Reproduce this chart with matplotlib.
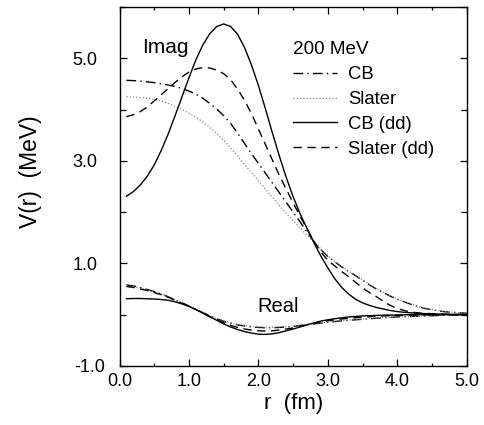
import matplotlib
matplotlib.use("Agg")
import matplotlib.pyplot as plt
from matplotlib.ticker import FixedLocator, FixedFormatter, MultipleLocator
from matplotlib.transforms import ScaledTranslation

plt.rcParams['font.family'] = ['Liberation Sans', 'DejaVu Sans']

r = [0.1, 0.2, 0.3, 0.4, 0.5, 0.6, 0.7, 0.8, 0.9, 1.0,
     1.1, 1.2, 1.3, 1.4, 1.5, 1.6, 1.7, 1.8, 1.9, 2.0,
     2.1, 2.2, 2.3, 2.4, 2.5, 2.6, 2.7, 2.8, 2.9, 3.0,
     3.1, 3.2, 3.3, 3.4, 3.5, 3.6, 3.7, 3.8, 3.9, 4.0,
     4.1, 4.2, 4.3, 4.4, 4.5, 4.6, 4.7, 4.8, 4.9, 5.0]

# Imaginary parts
imag_cb = [4.57, 4.565, 4.555, 4.54, 4.525, 4.50, 4.48, 4.45, 4.41, 4.36,
           4.30, 4.22, 4.12, 4.01, 3.88, 3.73, 3.54, 3.34, 3.14, 2.95,
           2.76, 2.57, 2.38, 2.19, 2.00, 1.81, 1.61, 1.43, 1.27, 1.13,
           1.03, 0.93, 0.84, 0.76, 0.67, 0.58, 0.50, 0.43, 0.36, 0.30,
           0.25, 0.20, 0.16, 0.12, 0.095, 0.07, 0.055, 0.045, 0.035, 0.03]
imag_slater = [4.25, 4.245, 4.235, 4.22, 4.20, 4.17, 4.12, 4.06, 4.00, 3.93,
               3.85, 3.76, 3.65, 3.53, 3.40, 3.25, 3.09, 2.93, 2.77, 2.61,
               2.45, 2.29, 2.13, 1.98, 1.83, 1.69, 1.55, 1.42, 1.28, 1.15,
               1.04, 0.94, 0.85, 0.77, 0.68, 0.59, 0.51, 0.44, 0.37, 0.31,
               0.25, 0.21, 0.16, 0.13, 0.10, 0.075, 0.058, 0.046, 0.036, 0.03]
imag_cb_dd = [2.31, 2.40, 2.53, 2.70, 2.92, 3.20, 3.52, 3.88, 4.25, 4.62,
              4.97, 5.26, 5.48, 5.62, 5.67, 5.62, 5.47, 5.21, 4.87, 4.47,
              4.02, 3.55, 3.10, 2.68, 2.30, 1.97, 1.68, 1.40, 1.14, 0.91,
              0.70, 0.53, 0.40, 0.30, 0.23, 0.18, 0.14, 0.11, 0.08, 0.06,
              0.045, 0.035, 0.025, 0.02, 0.015, 0.01, 0.008, 0.005, 0.003, 0.0]
imag_slater_dd = [3.86, 3.90, 3.96, 4.05, 4.17, 4.29, 4.41, 4.53, 4.64, 4.73,
                  4.79, 4.82, 4.81, 4.77, 4.70, 4.58, 4.40, 4.18, 3.92, 3.62,
                  3.32, 3.02, 2.72, 2.45, 2.18, 1.92, 1.67, 1.43, 1.22, 1.06,
                  0.95, 0.84, 0.74, 0.63, 0.52, 0.43, 0.35, 0.26, 0.18, 0.12,
                  0.08, 0.05, 0.035, 0.025, 0.018, 0.012, 0.008, 0.005, 0.003, 0.0]

# Real parts
real_cb = [0.58, 0.56, 0.53, 0.49, 0.45, 0.40, 0.35, 0.29, 0.23, 0.17,
           0.10, 0.04, -0.02, -0.08, -0.13, -0.17, -0.20, -0.22, -0.24, -0.25,
           -0.255, -0.255, -0.25, -0.24, -0.23, -0.21, -0.195, -0.18, -0.165, -0.15,
           -0.135, -0.12, -0.11, -0.10, -0.09, -0.08, -0.07, -0.06, -0.05, -0.045,
           -0.04, -0.035, -0.03, -0.025, -0.02, -0.015, -0.01, -0.008, -0.005, 0.0]
real_slater = [0.56, 0.545, 0.52, 0.485, 0.445, 0.40, 0.35, 0.29, 0.23, 0.17,
               0.10, 0.04, -0.02, -0.075, -0.12, -0.16, -0.19, -0.21, -0.23, -0.24,
               -0.245, -0.245, -0.24, -0.23, -0.22, -0.205, -0.19, -0.175, -0.16, -0.145,
               -0.13, -0.115, -0.105, -0.095, -0.085, -0.075, -0.065, -0.055, -0.05, -0.045,
               -0.04, -0.035, -0.03, -0.025, -0.02, -0.015, -0.01, -0.008, -0.005, 0.0]
real_cb_dd = [0.31, 0.315, 0.315, 0.31, 0.305, 0.295, 0.28, 0.25, 0.21, 0.16,
              0.10, 0.03, -0.04, -0.11, -0.18, -0.24, -0.29, -0.33, -0.36, -0.38,
              -0.385, -0.375, -0.35, -0.315, -0.28, -0.24, -0.20, -0.16, -0.125, -0.10,
              -0.08, -0.06, -0.045, -0.035, -0.025, -0.02, -0.015, -0.01, -0.008, -0.005,
              -0.003, -0.002, 0.0, 0.0, 0.0, 0.0, 0.0, 0.0, 0.0, 0.0]
real_slater_dd = [0.55, 0.53, 0.50, 0.47, 0.43, 0.39, 0.34, 0.28, 0.22, 0.16,
                  0.10, 0.03, -0.04, -0.10, -0.16, -0.21, -0.25, -0.28, -0.30, -0.315,
                  -0.32, -0.315, -0.30, -0.28, -0.26, -0.23, -0.20, -0.17, -0.14, -0.12,
                  -0.10, -0.085, -0.07, -0.06, -0.05, -0.04, -0.03, -0.025, -0.02, -0.015,
                  -0.01, -0.008, -0.005, -0.003, -0.002, 0.0, 0.0, 0.0, 0.0, 0.0]

labels = ["CB", "Slater", "CB (dd)", "Slater (dd)"]
y_major = [-1.0, 1.0, 3.0, 5.0]
y_minor = [0.0, 2.0, 4.0, 6.0]
y_tick_labels = ["-1.0", "1.0", "3.0", "5.0"]
x_ticks = [0.0, 1.0, 2.0, 3.0, 4.0, 5.0]
x_tick_labels = ["0.0", "1.0", "2.0", "3.0", "4.0", "5.0"]

fig = plt.figure(figsize=(4.85, 4.25), dpi=100, facecolor='white')
ax = fig.add_axes([0.2464, 0.139, 0.716, 0.8445])

lw = 1.0
sty_cb = dict(color='black', lw=lw, dashes=(7, 3, 1, 3))
sty_sl = dict(color='#8a8a8a', lw=0.9, dashes=(1, 1.6))
sty_cbdd = dict(color='black', lw=lw, linestyle='-')
sty_sldd = dict(color='black', lw=lw, dashes=(6, 4))

h1, = ax.plot(r, imag_cb, **sty_cb)
h2, = ax.plot(r, imag_slater, **sty_sl)
h3, = ax.plot(r, imag_cb_dd, **sty_cbdd)
h4, = ax.plot(r, imag_slater_dd, **sty_sldd)
ax.plot(r, real_cb, **sty_cb)
ax.plot(r, real_slater, **sty_sl)
ax.plot(r, real_cb_dd, **sty_cbdd)
ax.plot(r, real_slater_dd, **sty_sldd)

ax.set_xlim(0.0, 5.0)
ax.set_ylim(-1.0, 6.0)
ax.xaxis.set_major_locator(FixedLocator(x_ticks))
ax.xaxis.set_major_formatter(FixedFormatter(x_tick_labels))
ax.xaxis.set_minor_locator(MultipleLocator(0.5))
ax.yaxis.set_major_locator(FixedLocator(y_major))
ax.yaxis.set_major_formatter(FixedFormatter(y_tick_labels))
ax.yaxis.set_minor_locator(FixedLocator(y_minor))

ax.tick_params(which='both', direction='in', top=True, right=True, width=0.9)
ax.tick_params(axis='x', which='major', length=5, labelsize=13, pad=5)
ax.tick_params(axis='x', which='minor', length=2.5)
ax.tick_params(axis='y', which='major', length=5, labelsize=13, pad=16)
ax.tick_params(axis='y', which='minor', length=4)
for s in ax.spines.values():
    s.set_linewidth(1.0)

# shift "-1.0" label slightly right as in the original
lbl = ax.get_yticklabels()[0]
lbl.set_transform(lbl.get_transform() + ScaledTranslation(6/72, 0, fig.dpi_scale_trans))

ax.set_xlabel("r  (fm)", fontsize=16)
ax.xaxis.set_label_coords(0.5, -0.075)
ax.set_ylabel("V(r)  (MeV)", fontsize=16.5)
ax.yaxis.set_label_coords(-0.222, 0.541)

ax.text(0.32, 5.10, "Imag", fontsize=15)
ax.text(1.98, 0.05, "Real", fontsize=14.5)

leg = ax.legend([h1, h2, h3, h4], labels, title="200 MeV", loc='upper left',
                bbox_to_anchor=(0.5, 0.904), frameon=False, fontsize=13.3,
                title_fontsize=13.6, handlelength=2.35, handletextpad=0.62,
                labelspacing=0.42, borderpad=0, borderaxespad=0, alignment='left')

fig.savefig("out.png", dpi=100, facecolor='white')
